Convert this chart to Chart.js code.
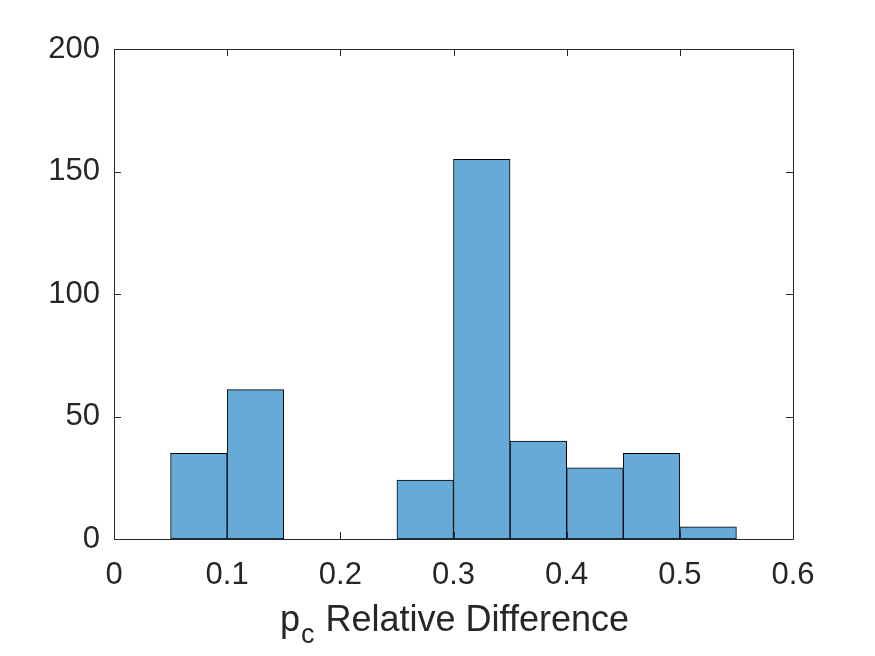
<!DOCTYPE html>
<html>
<head>
<meta charset="utf-8">
<script src="https://cdn.jsdelivr.net/npm/chart.js@4"></script>
<style>
html,body{margin:0;padding:0;background:#fff;}
#wrap{width:875px;height:656px;position:relative;}
</style>
</head>
<body>
<div id="wrap"><canvas id="c" width="875" height="656"></canvas></div>
<script>
// Histogram bins (left edges) and counts
const binEdges = [0.05, 0.10, 0.15, 0.20, 0.25, 0.30, 0.35, 0.40, 0.45, 0.50, 0.55];
const counts   = [35, 61, 0, 0, 24, 155, 40, 29, 35, 5];
const xTicks = [0, 0.1, 0.2, 0.3, 0.4, 0.5, 0.6];
const yTicks = [0, 50, 100, 150, 200];
const xTitleMain = 'p';
const xTitleSub = 'c';
const xTitleRest = ' Relative Difference';

const FONT = '"Liberation Sans", Arial, Helvetica, sans-serif';
const AX = '#262626';

const points = counts.map((v, i) => ({ x: (binEdges[i] + binEdges[i + 1]) / 2, y: v }));

const boxPlugin = {
  id: 'matlabBox',
  afterDraw(chart) {
    const ctx = chart.ctx;
    const a = chart.chartArea;
    const xs = chart.scales.x, ys = chart.scales.y;
    ctx.save();
    ctx.strokeStyle = AX;
    ctx.lineWidth = 1;
    ctx.beginPath();
    ctx.rect(Math.round(a.left) + 0.5, Math.round(a.top) + 0.5, Math.round(a.right - a.left), Math.round(a.bottom - a.top));
    const tl = 7;
    xTicks.forEach(t => {
      const px = Math.round(xs.getPixelForValue(t)) + 0.5;
      ctx.moveTo(px, a.bottom); ctx.lineTo(px, a.bottom - tl);
      ctx.moveTo(px, a.top); ctx.lineTo(px, a.top + tl);
    });
    yTicks.forEach(t => {
      const py = Math.round(ys.getPixelForValue(t)) + 0.5;
      ctx.moveTo(a.left, py); ctx.lineTo(a.left + tl, py);
      ctx.moveTo(a.right, py); ctx.lineTo(a.right - tl, py);
    });
    ctx.stroke();
    // x-axis title with subscript
    const big = 36, small = 27;
    ctx.fillStyle = AX;
    ctx.textBaseline = 'alphabetic';
    ctx.font = big + 'px ' + FONT;
    const w1 = ctx.measureText(xTitleMain).width;
    const w3 = ctx.measureText(xTitleRest).width;
    ctx.font = small + 'px ' + FONT;
    const w2 = ctx.measureText(xTitleSub).width;
    const total = w1 + w2 + w3;
    const cx = (a.left + a.right) / 2;
    let x0 = cx - total / 2;
    const base = 631;
    ctx.textAlign = 'left';
    ctx.font = big + 'px ' + FONT;
    ctx.fillText(xTitleMain, x0, base);
    ctx.font = small + 'px ' + FONT;
    ctx.fillText(xTitleSub, x0 + w1 + 1, base + 12);
    ctx.font = big + 'px ' + FONT;
    ctx.fillText(xTitleRest, x0 + w1 + w2 + 2, base);
    ctx.restore();
  }
};

new Chart(document.getElementById('c'), {
  type: 'bar',
  data: {
    datasets: [{
      data: points,
      backgroundColor: '#66AAD7',
      borderColor: '#000000',
      borderWidth: 1,
      borderSkipped: false,
      barPercentage: 1,
      categoryPercentage: 1
    }]
  },
  options: {
    responsive: false,
    animation: false,
    devicePixelRatio: 1,
    layout: { padding: { left: 0, top: 49, right: 82, bottom: 0 } },
    plugins: { legend: { display: false }, tooltip: { enabled: false } },
    scales: {
      x: {
        type: 'linear',
        offset: false,
        min: 0, max: 0.6,
        afterBuildTicks: s => { s.ticks = xTicks.map(v => ({ value: v })); },
        afterFit: s => { s.height = 117; },
        grid: { display: false, drawTicks: false, offset: false },
        border: { display: false },
        ticks: {
          color: AX,
          font: { family: FONT, size: 31 },
          padding: 18,
          maxRotation: 0,
          autoSkip: false,
          callback: v => v === 0 ? '0' : Number(v).toFixed(1)
        }
      },
      y: {
        min: 0, max: 200,
        afterBuildTicks: s => { s.ticks = yTicks.map(v => ({ value: v })); },
        afterFit: s => { s.width = 114; },
        grid: { display: false, drawTicks: false },
        border: { display: false },
        ticks: {
          color: AX,
          font: { family: FONT, size: 31 },
          padding: 14
        }
      }
    }
  },
  plugins: [boxPlugin]
});
</script>
</body>
</html>
